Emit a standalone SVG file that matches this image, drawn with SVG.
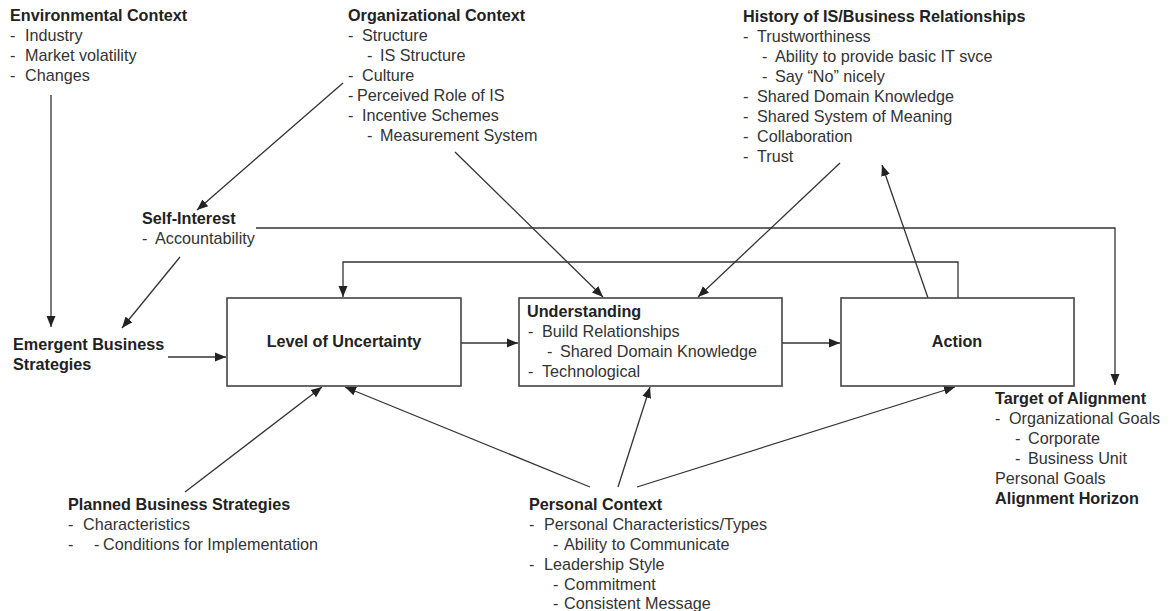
<svg xmlns="http://www.w3.org/2000/svg" width="1173" height="611" viewBox="0 0 1173 611">
<style>
text{font-family:"Liberation Sans",Arial,sans-serif;font-size:16.2px;fill:#333}
.b{font-weight:bold;fill:#222}
.c{text-anchor:middle}
.box{fill:#fff;stroke:#444;stroke-width:1.6}
.ln{fill:none;stroke:#333;stroke-width:1.3}
</style>
<defs>
<marker id="ah" markerUnits="userSpaceOnUse" markerWidth="12" markerHeight="10" refX="11" refY="5" orient="auto">
<path d="M0,0.5 L11,5 L0,9.5 z" fill="#222"/>
</marker>
</defs>
<rect width="1173" height="611" fill="#fff"/>

<g id="connectors">
<line class="ln" x1="51" y1="95" x2="51" y2="327" marker-end="url(#ah)"/>
<line class="ln" x1="343" y1="83" x2="197" y2="210" marker-end="url(#ah)"/>
<line class="ln" x1="180" y1="257" x2="122" y2="328" marker-end="url(#ah)"/>
<line class="ln" x1="168" y1="357" x2="226" y2="357" marker-end="url(#ah)"/>
<polyline class="ln" points="256,228 1115,228 1115,385" marker-end="url(#ah)"/>
<polyline class="ln" points="958,298 958,262 343,262 343,297" marker-end="url(#ah)"/>
<line class="ln" x1="455" y1="152" x2="603" y2="297" marker-end="url(#ah)"/>
<line class="ln" x1="840" y1="163" x2="698" y2="297" marker-end="url(#ah)"/>
<line class="ln" x1="928" y1="298" x2="882" y2="165" marker-end="url(#ah)"/>
<line class="ln" x1="461" y1="343" x2="518" y2="343" marker-end="url(#ah)"/>
<line class="ln" x1="782" y1="343" x2="840" y2="343" marker-end="url(#ah)"/>
<line class="ln" x1="185" y1="492" x2="322" y2="387" marker-end="url(#ah)"/>
<line class="ln" x1="590" y1="487" x2="345" y2="387" marker-end="url(#ah)"/>
<line class="ln" x1="618" y1="487" x2="650" y2="387" marker-end="url(#ah)"/>
<line class="ln" x1="637" y1="487" x2="955" y2="387" marker-end="url(#ah)"/>
</g>

<g id="uncertainty">
<rect class="box" x="227" y="298" width="234" height="88"/>
<text class="b c" x="344" y="347">Level of Uncertainty</text>
</g>

<g id="understanding">
<rect class="box" x="519" y="298" width="263" height="88"/>
<text class="b" x="527" y="317">Understanding</text>
<text y="337"><tspan x="528">-</tspan><tspan x="542">Build Relationships</tspan></text>
<text y="357"><tspan x="547">-</tspan><tspan x="560">Shared Domain Knowledge</tspan></text>
<text y="377"><tspan x="528">-</tspan><tspan x="542">Technological</tspan></text>
</g>

<g id="action">
<rect class="box" x="841" y="298" width="233" height="88"/>
<text class="b c" x="957" y="347">Action</text>
</g>

<g id="environmental">
<text class="b" x="10" y="21">Environmental Context</text>
<text y="41"><tspan x="10">-</tspan><tspan x="25">Industry</tspan></text>
<text y="61"><tspan x="10">-</tspan><tspan x="25">Market volatility</tspan></text>
<text y="81"><tspan x="10">-</tspan><tspan x="25">Changes</tspan></text>
</g>

<g id="organizational">
<text class="b" x="348" y="21">Organizational Context</text>
<text y="41"><tspan x="348">-</tspan><tspan x="362">Structure</tspan></text>
<text y="61"><tspan x="367">-</tspan><tspan x="380">IS Structure</tspan></text>
<text y="81"><tspan x="348">-</tspan><tspan x="362">Culture</tspan></text>
<text y="101"><tspan x="348">-</tspan><tspan x="357">Perceived Role of IS</tspan></text>
<text y="121"><tspan x="348">-</tspan><tspan x="362">Incentive Schemes</tspan></text>
<text y="141"><tspan x="367">-</tspan><tspan x="380">Measurement System</tspan></text>
</g>

<g id="history">
<text class="b" x="743" y="22">History of IS/Business Relationships</text>
<text y="42"><tspan x="743">-</tspan><tspan x="757">Trustworthiness</tspan></text>
<text y="62"><tspan x="762">-</tspan><tspan x="775">Ability to provide basic IT svce</tspan></text>
<text y="82"><tspan x="762">-</tspan><tspan x="775">Say “No” nicely</tspan></text>
<text y="102"><tspan x="743">-</tspan><tspan x="757">Shared Domain Knowledge</tspan></text>
<text y="122"><tspan x="743">-</tspan><tspan x="757">Shared System of Meaning</tspan></text>
<text y="142"><tspan x="743">-</tspan><tspan x="757">Collaboration</tspan></text>
<text y="162"><tspan x="743">-</tspan><tspan x="757">Trust</tspan></text>
</g>

<g id="self-interest">
<text class="b" x="142" y="224">Self-Interest</text>
<text y="244"><tspan x="142">-</tspan><tspan x="155">Accountability</tspan></text>
</g>

<g id="emergent">
<text class="b" x="13" y="350">Emergent Business</text>
<text class="b" x="13" y="370">Strategies</text>
</g>

<g id="planned">
<text class="b" x="68" y="510">Planned Business Strategies</text>
<text y="530"><tspan x="68">-</tspan><tspan x="83">Characteristics</tspan></text>
<text y="550"><tspan x="68">-</tspan><tspan x="94">-</tspan><tspan x="103">Conditions for Implementation</tspan></text>
</g>

<g id="personal">
<text class="b" x="529" y="510">Personal Context</text>
<text y="530"><tspan x="529">-</tspan><tspan x="544">Personal Characteristics/Types</tspan></text>
<text y="550"><tspan x="553">-</tspan><tspan x="564">Ability to Communicate</tspan></text>
<text y="570"><tspan x="529">-</tspan><tspan x="544">Leadership Style</tspan></text>
<text y="590"><tspan x="553">-</tspan><tspan x="564">Commitment</tspan></text>
<text y="609"><tspan x="553">-</tspan><tspan x="564">Consistent Message</tspan></text>
</g>

<g id="target">
<text class="b" x="995" y="404">Target of Alignment</text>
<text y="424"><tspan x="995">-</tspan><tspan x="1009">Organizational Goals</tspan></text>
<text y="444"><tspan x="1015">-</tspan><tspan x="1028">Corporate</tspan></text>
<text y="464"><tspan x="1015">-</tspan><tspan x="1028">Business Unit</tspan></text>
<text x="995" y="484">Personal Goals</text>
<text class="b" x="995" y="504">Alignment Horizon</text>
</g>
</svg>
